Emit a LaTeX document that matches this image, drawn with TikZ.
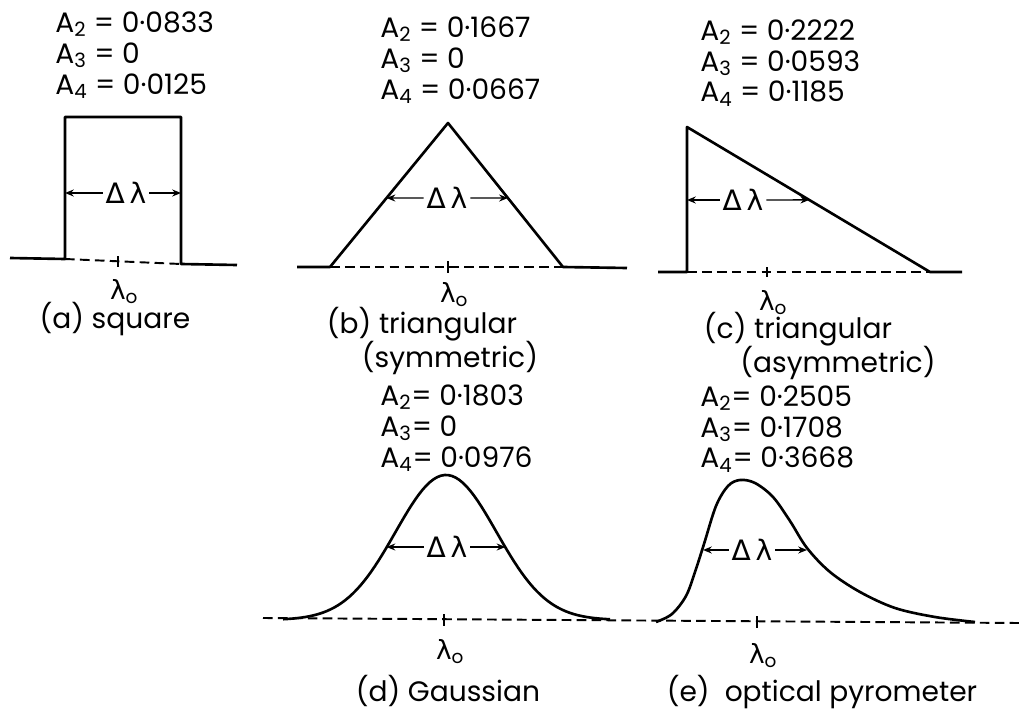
\documentclass[tikz,border=0pt]{standalone}
\usepackage{fontspec}
\setmainfont{Poppins}
\newfontfamily\grk{DejaVu Sans}
\usetikzlibrary{positioning, arrows.meta, calc}

\newcommand{\lam}{{\grk λ}}
\newcommand{\lamo}{\lam\textsubscript{o}}
\newcommand{\dlam}{{\grk Δ\,λ}}
\newcommand{\Am}[1]{A\textsubscript{#1}}

\begin{document}
\begin{tikzpicture}[
    x=0.02cm, y=-0.02cm,
    font=\fontsize{16}{17.6}\selectfont,
    % line styles
    curve/.style={line width=1.5pt, line join=round},
    base/.style={line width=1.1pt, dash pattern=on 5.5pt off 3pt},
    tickmark/.style={line width=0.9pt},
    width arrow/.style={-{Stealth[length=5pt, width=4pt]}, line width=0.8pt},
    % text styles
    moments/.style={align=left, anchor=west, inner sep=0pt},
    lbl/.style={inner sep=0pt},
    lamlbl/.style={inner sep=0pt, font=\fontsize{15}{16}\selectfont, xshift=3.5pt},
    dlbl/.style={inner sep=1.5pt}
]
\useasboundingbox (0,0) rectangle (1019,710);

% --- (a) square ---
\coordinate (aBL) at (65,259);
\coordinate (aTL) at (65,117);
\coordinate (aTR) at (181,117);
\coordinate (aBR) at (181,264);
\coordinate (tA) at (118,262);
\draw[curve] (10,258) -- (aBL) -- (aTL) -- (aTR) -- (aBR) -- (237,265);
\draw[base] (aBL) -- (aBR);
\draw[tickmark] ($(tA)+(0,-6)$) -- ($(tA)+(0,5)$);
\node[dlbl] (dA) at (126,193) {\dlam};
\draw[width arrow] (dA) -- (aTL |- dA);
\draw[width arrow] (dA) -- (aTR |- dA);
\node[moments] (mA) at (55,55) {\Am{2} = 0·0833\\\Am{3} = 0\\\Am{4} = 0·0125};
\node[lamlbl, below=0.34cm of tA] (lA) {\lamo};
\node[lbl] (capA) at (115,319) {(a) square};

% --- (b) symmetric triangle ---
\coordinate (bBL) at (330,267);
\coordinate (bTop) at (448,123);
\coordinate (bBR) at (563,267);
\coordinate (tB) at (448,267);
\draw[curve] (297,267) -- (bBL) -- (bTop) -- (bBR) -- (627,268);
\draw[base] (bBL) -- (bBR);
\draw[tickmark] ($(tB)+(0,-6)$) -- ($(tB)+(0,6)$);
\node[dlbl] (dB) at (447,198) {\dlam};
\draw[width arrow] (dB) -- ($(bTop)!0.521!(bBL)$);
\draw[width arrow] (dB) -- ($(bTop)!0.521!(bBR)$);
\node[moments] (mB) at (380,60) {\Am{2} = 0·1667\\\Am{3} = 0\\\Am{4} = 0·0667};
\node[lamlbl, below=0.30cm of tB] (lB) {\lamo};
\node[lbl] (capB) at (422,324) {(b) triangular};
\node[lbl] (capB2) at (450,358) {(symmetric)};

% --- (c) asymmetric triangle ---
\coordinate (cBL) at (687,272);
\coordinate (cTop) at (687,127);
\coordinate (cBR) at (930,272);
\coordinate (tC) at (767,272);
\draw[curve] (658,272) -- (cBL) -- (cTop) -- (cBR) -- (962,272);
\draw[base] (cBL) -- (cBR);
\draw[tickmark] ($(tC)+(0,-5)$) -- ($(tC)+(0,5)$);
\node[dlbl] (dC) at (743,200) {\dlam};
\draw[width arrow] (dC) -- (cTop |- dC);
\draw[width arrow] (dC) -- ($(cTop)!0.503!(cBR)$);
\node[moments] (mC) at (700,63) {\Am{2} = 0·2222\\\Am{3} = 0·0593\\\Am{4} = 0·1185};
\node[lamlbl, below=0.36cm of tC] (lC) {\lamo};
\node[lbl] (capC) at (798,329) {(c) triangular};
\node[lbl] (capC2) at (838,363) {(asymmetric)};

% --- common axis for (d) and (e) ---
\draw[base] (263,618) -- (1019,623);

% --- (d) Gaussian ---
\coordinate (tD) at (444,620);
\coordinate (dHL) at (386.5,547);
\coordinate (dHR) at (505.5,547);
\draw[curve] plot[domain=283:610, samples=90] (\x, {620-145*exp(-0.5*((\x-446)/50.5)^2)});
\draw[tickmark] ($(tD)+(0,-6)$) -- ($(tD)+(0,6)$);
\node[dlbl] (dD) at (447,547) {\dlam};
\draw[width arrow] (dD) -- (dHL);
\draw[width arrow] (dD) -- (dHR);
\node[moments] (mD) at (380,428) {\Am{2}= 0·1803\\\Am{3}= 0\\\Am{4}= 0·0976};
\node[lamlbl, below=0.38cm of tD] (lD) {\lamo};
\node[lbl] (capD) at (448,691) {(d) Gaussian};

% --- (e) optical pyrometer ---
\coordinate (tE) at (757,622);
\coordinate (eHL) at (703,550);
\coordinate (eHR) at (807,550);
\draw[curve] plot[smooth, tension=0.55] coordinates {(656,622) (672,614) (686,596)
  (695,572) (704,544) (716,506) (728,486) (740,480) (755,483) (773,497) (790,521)
  (807,548) (830,572) (860,592) (895,608) (935,617) (975,622)};
\draw[tickmark] ($(tE)+(0,-6)$) -- ($(tE)+(0,6)$);
\node[dlbl] (dE) at (752,550) {\dlam};
\draw[width arrow] (dE) -- (eHL);
\draw[width arrow] (dE) -- (eHR);
\node[moments] (mE) at (700,429) {\Am{2}= 0·2505\\\Am{3}= 0·1708\\\Am{4}= 0·3668};
\node[lamlbl, below=0.42cm of tE] (lE) {\lamo};
\node[lbl] (capE) at (822,692) {(e)\ \ optical pyrometer};

\end{tikzpicture}
\end{document}
